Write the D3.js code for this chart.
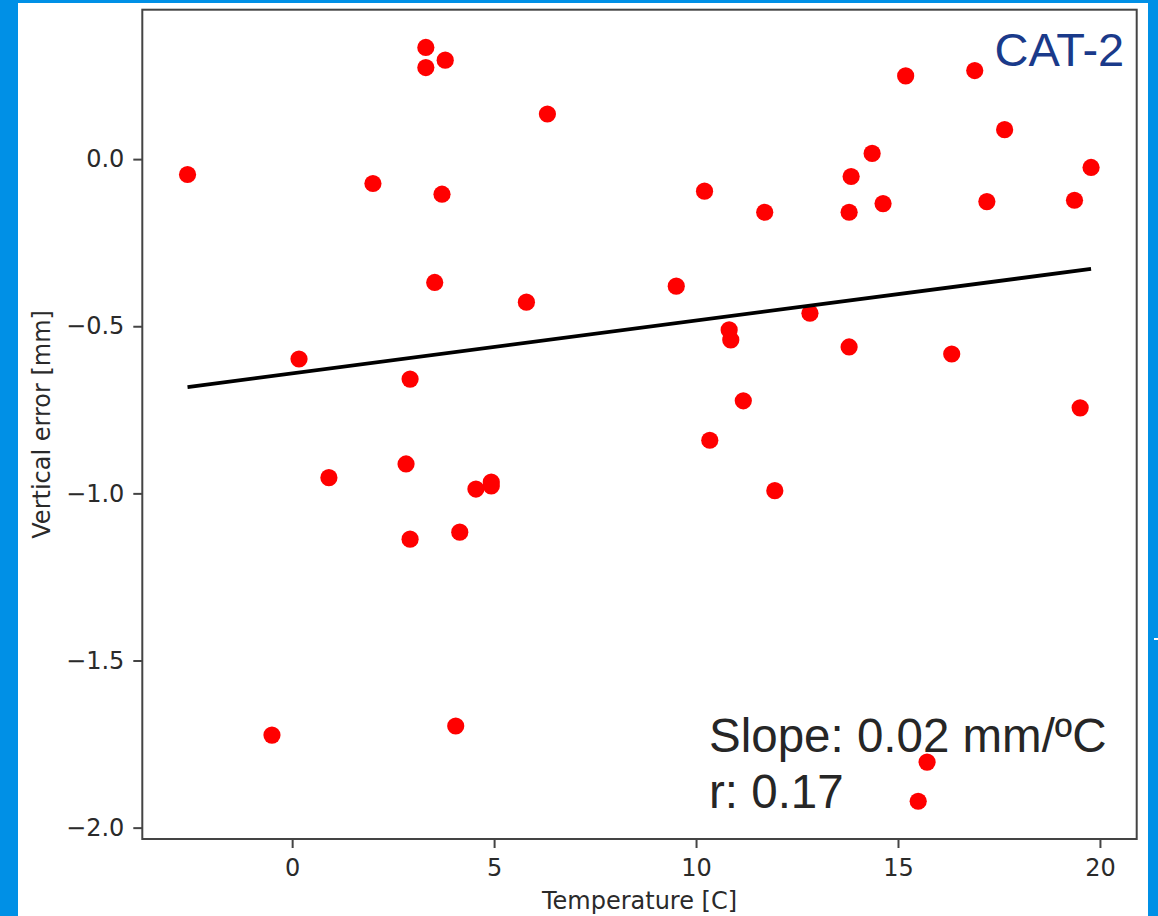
<!DOCTYPE html>
<html>
<head>
<meta charset="utf-8">
<script src="https://cdn.jsdelivr.net/npm/d3@7"></script>
<style>
  html, body { margin: 0; padding: 0; background: #fff; }
  svg { display: block; }
  .tick text { font-family: "DejaVu Sans", sans-serif; font-size: 24px; fill: #2a2a2a; }
  .tick line { stroke: #444; stroke-width: 2; }
</style>
</head>
<body>
<svg id="chart"></svg>
<script>
// values
var temps = [-2.59, -0.50, 0.17, 0.91, 2.00, 2.82, 2.92, 2.92, 3.31, 3.31, 3.79, 3.71, 3.53, 4.05, 4.15,
  4.55, 4.93, 4.93, 5.80, 6.32, 9.51, 10.21, 10.34, 10.82, 10.86, 11.17, 11.70, 11.95, 12.82, 13.79,
  13.84, 13.79, 14.36, 14.63, 15.19, 15.50, 15.72, 16.33, 16.90, 17.20, 17.64, 19.37, 19.51, 19.78];
var errors = [-0.046, -1.723, -0.598, -0.953, -0.073, -0.912, -0.658, -1.137, 0.334, 0.274, 0.296, -0.105, -0.369, -1.696, -1.116,
  -0.987, -0.966, -0.978, -0.428, 0.135, -0.380, -0.096, -0.841, -0.511, -0.541, -0.723, -0.159, -0.992, -0.461, -0.159,
  -0.052, -0.562, 0.017, -0.133, 0.249, -1.921, -1.804, -0.583, 0.265, -0.127, 0.088, -0.123, -0.744, -0.025];
var fitSlope = 0.0158;
var fitIntercept = -0.641;
var xTicks = [0, 5, 10, 15, 20];
var yTicks = [0.0, -0.5, -1.0, -1.5, -2.0];
var xDomain = [-3.71, 20.91];
var yDomain = [-2.034, 0.447];
var slopeText = "Slope: 0.02 mm/ºC";
var rText = "r: 0.17";
var panelName = "CAT-2";

var W = 1158, H = 916;
var margin = { left: 142.3, top: 9.7, right: W - 1136.7, bottom: H - 839 };
var pw = W - margin.left - margin.right;
var ph = H - margin.top - margin.bottom;

var svg = d3.select("#chart").attr("width", W).attr("height", H);

// blue slide frame
svg.append("rect").attr("width", W).attr("height", H).attr("fill", "#0090e6");
svg.append("rect").attr("x", 18).attr("y", 3).attr("width", 1148 - 18).attr("height", H - 3).attr("fill", "#fff");
svg.append("rect").attr("x", 1154).attr("y", 638).attr("width", 4).attr("height", 2).attr("fill", "#fff");

var x = d3.scaleLinear().domain(xDomain).range([0, pw]);
var y = d3.scaleLinear().domain(yDomain).range([ph, 0]);

var g = svg.append("g").attr("transform", "translate(" + margin.left + "," + margin.top + ")");

var xAxis = d3.axisBottom(x).tickValues(xTicks).tickFormat(d3.format("d")).tickSize(9).tickPadding(11);
var yAxis = d3.axisLeft(y).tickValues(yTicks).tickFormat(d3.format(".1f")).tickSize(9).tickPadding(9);

g.append("g").attr("transform", "translate(0," + ph + ")").call(xAxis).select(".domain").remove();
g.append("g").call(yAxis).select(".domain").remove();

var points = temps.map(function (t, i) { return { t: t, e: errors[i] }; });

// scatter
g.selectAll("circle")
  .data(points)
  .enter().append("circle")
  .attr("cx", function (d) { return x(d.t); })
  .attr("cy", function (d) { return y(d.e); })
  .attr("r", 8.6)
  .style("fill", "#ff0000");

// fitted line over the data range
var ext = d3.extent(temps);
var line = d3.line()
  .x(function (d) { return x(d); })
  .y(function (d) { return y(fitIntercept + fitSlope * d); });
g.append("path")
  .datum(ext)
  .attr("d", line)
  .attr("fill", "none")
  .attr("stroke", "#000")
  .attr("stroke-width", 3.8);

// frame
g.append("rect").attr("width", pw).attr("height", ph)
  .attr("fill", "none").attr("stroke", "#444").attr("stroke-width", 2);

// axis labels
svg.append("text")
  .attr("transform", "translate(49.5," + (margin.top + ph / 2) + ") rotate(-90)")
  .attr("text-anchor", "middle")
  .style("font-family", "DejaVu Sans, sans-serif").style("font-size", "24px").style("fill", "#2a2a2a")
  .text("Vertical error [mm]");
svg.append("text")
  .attr("x", margin.left + pw / 2).attr("y", 908.5)
  .attr("text-anchor", "middle")
  .style("font-family", "DejaVu Sans, sans-serif").style("font-size", "24px").style("fill", "#2a2a2a")
  .text("Temperature [C]");

// overlay texts
svg.append("text")
  .attr("x", 994.5).attr("y", 66)
  .style("font-family", "Liberation Sans, Arial, sans-serif").style("font-size", "47px").style("fill", "#1a3a8a")
  .text(panelName);
svg.append("text")
  .attr("x", 709).attr("y", 751.7)
  .style("font-family", "Liberation Sans, Arial, sans-serif").style("font-size", "47.5px").style("fill", "#262626")
  .text(slopeText);
svg.append("text")
  .attr("x", 709).attr("y", 808.3)
  .style("font-family", "Liberation Sans, Arial, sans-serif").style("font-size", "47.5px").style("fill", "#262626")
  .text(rText);
</script>
</body>
</html>
